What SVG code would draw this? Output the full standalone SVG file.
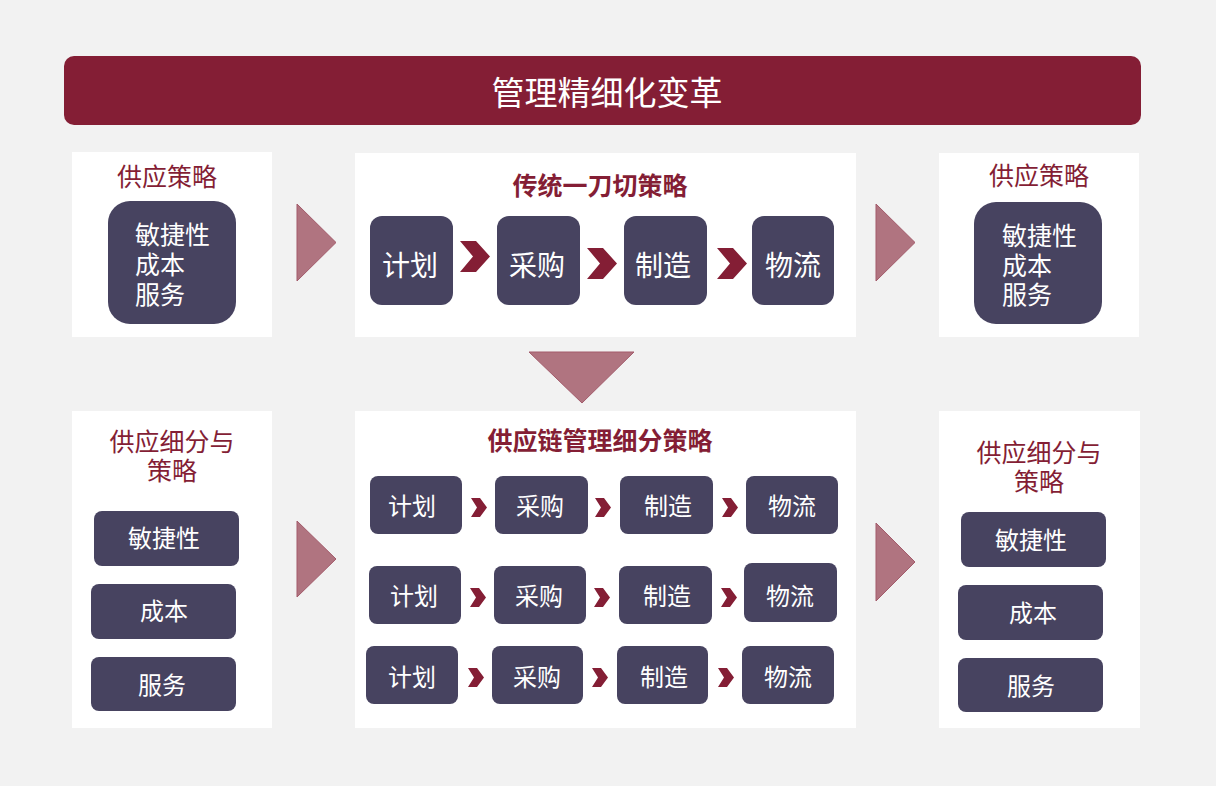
<svg xmlns="http://www.w3.org/2000/svg" width="1216" height="786" viewBox="0 0 1216 786">
<style>
text{font-family:"Noto Sans CJK SC","Noto Sans",sans-serif}
.panel{fill:#FFFFFF}
.box{fill:#474360}
.bt{fill:#FFFFFF;font-size:24px;text-anchor:middle}
.bt28{fill:#FFFFFF;font-size:28px;text-anchor:middle}
.lt{fill:#FFFFFF;font-size:25px}
.ttl{fill:#841E35;font-size:25px;text-anchor:middle}
.ttlb{fill:#841E35;font-size:25px;font-weight:bold;text-anchor:middle}
.chev{fill:#841E35}
.tri{fill:#B07480;stroke:#A35B6B;stroke-width:1}
</style>
<defs>
<polygon id="chevL" points="0,0 16,0 30,15.5 16,31 0,31 13,15.5"/>
<polygon id="chevS" points="0,0 9,0 16,9.5 9,19 0,19 6,9.5"/>
</defs>
<rect x="0" y="0" width="1216" height="786" fill="#F2F2F2"/>

<g id="header">
<rect x="64" y="56" width="1077" height="69" rx="10" fill="#841E35"/>
<text x="607" y="105" fill="#FFFFFF" font-size="33" text-anchor="middle">管理精细化变革</text>
</g>

<g id="panel-top-left">
<rect class="panel" x="72" y="152" width="200" height="185"/>
<text class="ttl" x="167" y="186">供应策略</text>
<rect class="box" x="108" y="201" width="128" height="123" rx="22"/>
<text class="lt" x="135" y="244">敏捷性</text>
<text class="lt" x="135" y="274">成本</text>
<text class="lt" x="135" y="304">服务</text>
</g>

<g id="panel-top-mid">
<rect class="panel" x="355" y="153" width="501" height="184"/>
<text class="ttlb" x="600" y="195">传统一刀切策略</text>
<g id="t-plan"><rect class="box" x="370" y="216" width="83" height="89" rx="12"/><text class="bt28" x="410" y="276">计划</text></g>
<g id="t-buy"><rect class="box" x="497" y="216" width="83" height="89" rx="12"/><text class="bt28" x="537" y="276">采购</text></g>
<g id="t-make"><rect class="box" x="624" y="216" width="83" height="89" rx="12"/><text class="bt28" x="663" y="276">制造</text></g>
<g id="t-log"><rect class="box" x="752" y="216" width="82" height="89" rx="12"/><text class="bt28" x="793" y="276">物流</text></g>
</g>

<g id="panel-top-right">
<rect class="panel" x="939" y="153" width="200" height="184"/>
<text class="ttl" x="1039" y="185">供应策略</text>
<rect class="box" x="974" y="202" width="128" height="122" rx="22"/>
<text class="lt" x="1002" y="245">敏捷性</text>
<text class="lt" x="1002" y="275">成本</text>
<text class="lt" x="1002" y="304">服务</text>
</g>

<g id="panel-bot-left">
<rect class="panel" x="72" y="411" width="200" height="317"/>
<text class="ttl" x="172" y="451">供应细分与</text>
<text class="ttl" x="172" y="480">策略</text>
<g id="bl-agile"><rect class="box" x="94" y="511" width="145" height="55" rx="8"/><text class="bt" x="164" y="547">敏捷性</text></g>
<g id="bl-cost"><rect class="box" x="91" y="584" width="145" height="55" rx="8"/><text class="bt" x="164" y="620">成本</text></g>
<g id="bl-svc"><rect class="box" x="91" y="657" width="145" height="54" rx="8"/><text class="bt" x="162" y="694">服务</text></g>
</g>

<g id="panel-bot-mid">
<rect class="panel" x="355" y="411" width="501" height="317"/>
<text class="ttlb" x="600" y="450">供应链管理细分策略</text>
<g id="r1-plan"><rect class="box" x="370" y="476" width="92" height="58" rx="8"/><text class="bt" x="412" y="515">计划</text></g>
<g id="r1-buy"><rect class="box" x="495" y="476" width="93" height="58" rx="8"/><text class="bt" x="540" y="515">采购</text></g>
<g id="r1-make"><rect class="box" x="620" y="476" width="93" height="58" rx="8"/><text class="bt" x="668" y="515">制造</text></g>
<g id="r1-log"><rect class="box" x="746" y="476" width="92" height="58" rx="8"/><text class="bt" x="792" y="515">物流</text></g>
<g id="r2-plan"><rect class="box" x="369" y="566" width="92" height="58" rx="8"/><text class="bt" x="414" y="605">计划</text></g>
<g id="r2-buy"><rect class="box" x="494" y="566" width="92" height="58" rx="8"/><text class="bt" x="539" y="605">采购</text></g>
<g id="r2-make"><rect class="box" x="619" y="566" width="93" height="58" rx="8"/><text class="bt" x="667" y="605">制造</text></g>
<g id="r2-log"><rect class="box" x="744" y="563" width="93" height="59" rx="8"/><text class="bt" x="790" y="605">物流</text></g>
<g id="r3-plan"><rect class="box" x="366" y="646" width="92" height="58" rx="8"/><text class="bt" x="412" y="686">计划</text></g>
<g id="r3-buy"><rect class="box" x="492" y="646" width="91" height="58" rx="8"/><text class="bt" x="537" y="686">采购</text></g>
<g id="r3-make"><rect class="box" x="617" y="646" width="91" height="58" rx="8"/><text class="bt" x="664" y="686">制造</text></g>
<g id="r3-log"><rect class="box" x="742" y="646" width="92" height="58" rx="8"/><text class="bt" x="788" y="686">物流</text></g>
</g>

<g id="panel-bot-right">
<rect class="panel" x="939" y="411" width="201" height="317"/>
<text class="ttl" x="1039" y="462">供应细分与</text>
<text class="ttl" x="1039" y="491">策略</text>
<g id="br-agile"><rect class="box" x="961" y="512" width="145" height="55" rx="8"/><text class="bt" x="1031" y="549">敏捷性</text></g>
<g id="br-cost"><rect class="box" x="958" y="585" width="145" height="55" rx="8"/><text class="bt" x="1033" y="622">成本</text></g>
<g id="br-svc"><rect class="box" x="958" y="658" width="145" height="54" rx="8"/><text class="bt" x="1031" y="695">服务</text></g>
</g>

<g id="connectors">
<polygon class="tri" points="297,204 336,242.5 297,281"/>
<polygon class="tri" points="876,204 915,242.5 876,281"/>
<polygon class="tri" points="297,521 336,559 297,597"/>
<polygon class="tri" points="876,523 915,562 876,601"/>
<polygon class="tri" points="529,352 634,352 582,403"/>
<use href="#chevL" class="chev" x="460" y="241"/>
<use href="#chevL" class="chev" x="587" y="248"/>
<use href="#chevL" class="chev" x="717" y="248"/>
<use href="#chevS" class="chev" x="471" y="498"/>
<use href="#chevS" class="chev" x="595" y="498"/>
<use href="#chevS" class="chev" x="722" y="498"/>
<use href="#chevS" class="chev" x="470" y="588"/>
<use href="#chevS" class="chev" x="594" y="588"/>
<use href="#chevS" class="chev" x="721" y="588"/>
<use href="#chevS" class="chev" x="468" y="668"/>
<use href="#chevS" class="chev" x="592" y="668"/>
<use href="#chevS" class="chev" x="718" y="668"/>
</g>
</svg>
